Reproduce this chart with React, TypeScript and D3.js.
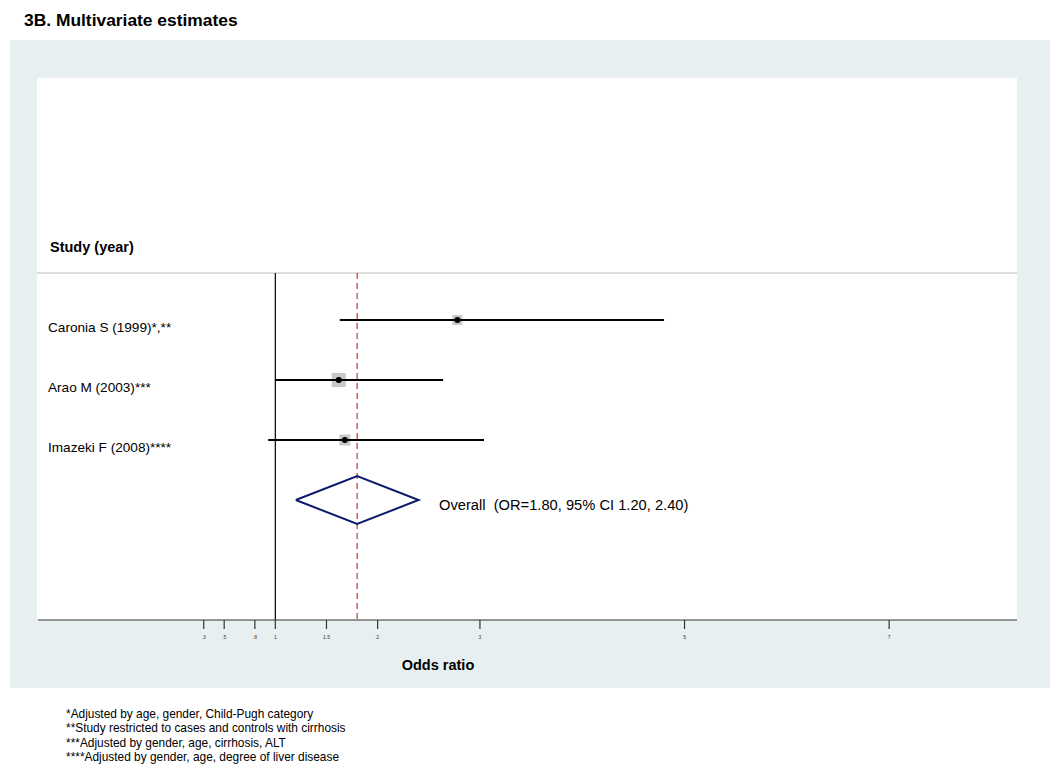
import React from 'react';
import * as d3 from 'd3';

const studies = ['Caronia S (1999)*,**', 'Arao M (2003)***', 'Imazeki F (2008)****'];
const estimates = [2.78, 1.62, 1.68];
const lowers = [1.63, 1.0, 0.93];
const uppers = [4.8, 2.64, 3.04];
const weights = [10, 14, 11];
const overall = { est: 1.8, lo: 1.2, hi: 2.4 };
const tickValues = [0.3, 0.5, 0.8, 1, 1.5, 2, 3, 5, 7];
const tickLabels = ['.3', '.5', '.8', '1', '1.5', '2', '3', '5', '7'];
const footnotes = [
  '*Adjusted by age, gender, Child-Pugh category',
  '**Study restricted to cases and controls with cirrhosis',
  '***Adjusted by gender, age, cirrhosis, ALT',
  '****Adjusted by gender, age, degree of liver disease',
];

const font = 'Arial, "Liberation Sans", Helvetica, sans-serif';

const App = () => {
  const x = d3.scaleLinear().domain([-1.32, 8.25]).range([38, 1017]);
  const rows = d3.scalePoint<number>().domain([0, 1, 2, 3]).range([320, 500]);
  const top = 273;
  const bottom = 620;
  const diamondY = rows(3) as number;
  const diamond = d3.line()([
    [x(overall.lo), diamondY],
    [x(overall.est), diamondY - 24],
    [x(overall.hi), diamondY],
    [x(overall.est), diamondY + 24],
    [x(overall.lo), diamondY],
  ]);

  return (
    <svg width={1050} height={773} style={{ position: 'absolute', left: 0, top: 0 }} fontFamily={font}>
      <rect x={0} y={0} width={1050} height={773} fill="#fff" />
      <text x={24} y={26} fontSize={17.4} fontWeight="bold">3B. Multivariate estimates</text>
      <rect x={10} y={40} width={1040} height={648} fill="#e8eff1" />
      <rect x={37} y={78} width={980} height={542} fill="#fff" />
      <text x={50} y={252} fontSize={14.5} fontWeight="bold">Study (year)</text>
      <line x1={37} x2={1017} y1={top} y2={top} stroke="#bbb" strokeWidth={1} />
      <line x1={x(1)} x2={x(1)} y1={top} y2={bottom} stroke="#000" strokeWidth={1.2} />
      <line x1={x(overall.est)} x2={x(overall.est)} y1={top} y2={bottom} stroke="#c0392b" strokeWidth={1.2} strokeDasharray="6,4" />
      {studies.map((s, i) => {
        const y = rows(i) as number;
        return (
          <g key={s}>
            <text x={48} y={y + 12} fontSize={13.6}>{s}</text>
            <rect x={x(estimates[i]) - weights[i] / 2} y={y - weights[i] / 2} width={weights[i]} height={weights[i]} fill="#c8c8c8" />
            <line x1={x(lowers[i])} x2={x(uppers[i])} y1={y} y2={y} stroke="#000" strokeWidth={2} />
            <circle cx={x(estimates[i])} cy={y} r={3} fill="#000" />
          </g>
        );
      })}
      <path d={diamond ?? ''} fill="none" stroke="#0d1a6b" strokeWidth={2} />
      <text x={439} y={diamondY + 10} fontSize={14.7} style={{ whiteSpace: 'pre' }}>{'Overall  (OR=1.80, 95% CI 1.20, 2.40)'}</text>
      <line x1={38} x2={1017} y1={bottom} y2={bottom} stroke="#333" strokeWidth={1.2} />
      {tickValues.map((t, i) => (
        <g key={t} transform={`translate(${x(t)},${bottom})`}>
          <line y1={0} y2={9} stroke="#333" strokeWidth={1.2} />
          <text y={19} textAnchor="middle" fontSize={5} fill="#333">{tickLabels[i]}</text>
        </g>
      ))}
      <text x={438} y={670} textAnchor="middle" fontSize={14.5} fontWeight="bold">Odds ratio</text>
      {footnotes.map((f, i) => (
        <text key={f} x={66} y={718 + i * 14.3} fontSize={11.9}>{f}</text>
      ))}
    </svg>
  );
};

export default App;
